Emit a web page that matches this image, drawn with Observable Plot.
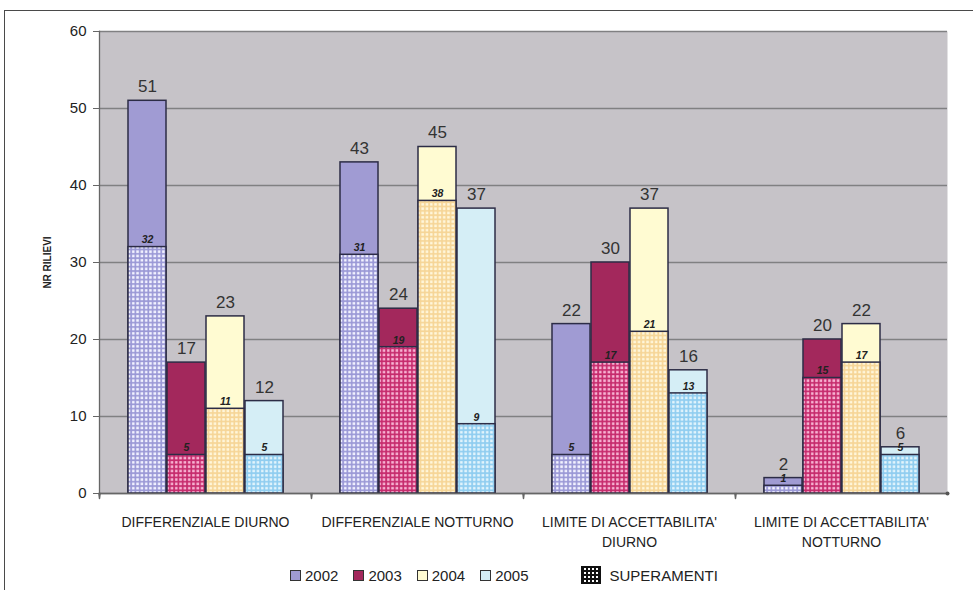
<!DOCTYPE html>
<html>
<head>
<meta charset="utf-8">
<script src="https://cdn.jsdelivr.net/npm/d3@7"></script>
<script src="https://cdn.jsdelivr.net/npm/@observablehq/plot@0.6"></script>
<style>
  body { margin: 0; background: #fff; font-family: Arial, "Liberation Sans", sans-serif; }
  #wrap { position: relative; width: 973px; height: 590px; overflow: hidden; background: #fff; }
  #chart { position: absolute; left: 0; top: 0; }
  #border { position: absolute; left: 4px; top: 10px; width: 1200px; height: 900px;
            border-top: 1.5px solid #4a4a4a; border-left: 1.5px solid #4a4a4a; pointer-events: none; }
  #legend { position: absolute; left: 290px; top: 566px; display: flex; align-items: center;
            font-size: 15px; color: #222; }
  .item { display: flex; align-items: center; margin-right: 15px; }
  .sw { width: 9px; height: 9px; border: 1px solid #333; margin-right: 4px; }
  .pat { width: 18px; height: 16px; margin-left: 37px; margin-right: 9px;
         background-color: #111;
         background-image: radial-gradient(circle, #fff 1.1px, transparent 1.3px);
         background-size: 4px 4px; background-position: 1px 0px; border: 1px solid #111; }
</style>
</head>
<body>
<div id="wrap">
  <div id="chart"></div>
  <div id="legend"></div>
  <div id="border"></div>
</div>
<script>
// ---- data ----
const categories = ["DIFFERENZIALE DIURNO", "DIFFERENZIALE NOTTURNO", "LIMITE DI ACCETTABILITA' DIURNO", "LIMITE DI ACCETTABILITA' NOTTURNO"];
const categoryLabels = ["DIFFERENZIALE DIURNO", "DIFFERENZIALE NOTTURNO", "LIMITE DI ACCETTABILITA'\nDIURNO", "LIMITE DI ACCETTABILITA'\nNOTTURNO"];
const years = ["2002", "2003", "2004", "2005"];
const total2002 = [51, 43, 22, 2];
const total2003 = [17, 24, 30, 20];
const total2004 = [23, 45, 37, 22];
const total2005 = [12, 37, 16, 6];
const super2002 = [32, 31, 5, 1];
const super2003 = [5, 19, 17, 15];
const super2004 = [11, 38, 21, 17];
const super2005 = [5, 9, 13, 5];
const yTicks = [0, 10, 20, 30, 40, 50, 60];
const legendLabel = "SUPERAMENTI";
const yLabel = "NR RILIEVI";

// ---- styles ----
const solid = {"2002": "#a09bd3", "2003": "#a3285c", "2004": "#fffbd2", "2005": "#d5eef6"};
const patterns = {
  "2002": ["#9a98d6", "#f2f2ff"],
  "2003": ["#c62a6c", "#f7b3d3"],
  "2004": ["#f6d596", "#fff6da"],
  "2005": ["#8fcdf0", "#e2f4fc"]
};

const totals = {"2002": total2002, "2003": total2003, "2004": total2004, "2005": total2005};
const supers = {"2002": super2002, "2003": super2003, "2004": super2004, "2005": super2005};
const rows = [];
categories.forEach((cat, i) => {
  years.forEach(year => {
    rows.push({cat, year, total: totals[year][i], sup: supers[year][i]});
  });
});

const font = "Arial, 'Liberation Sans', sans-serif";
const barStroke = "#2c2c46";

const plot = Plot.plot({
  width: 973,
  height: 560,
  marginLeft: 97,
  marginRight: 25,
  marginTop: 31,
  marginBottom: 67,
  style: {background: "transparent", fontFamily: font, color: "#222"},
  fx: {domain: categories, padding: 0, axis: null},
  x: {domain: years, paddingInner: 0.038, paddingOuter: 0.71, axis: null},
  y: {domain: [0, 60], axis: null},
  color: {type: "identity"},
  marks: [
    Plot.frame({fill: "#c6c3c8", facet: "super"}),
    Plot.gridY(yTicks, {stroke: "#808082", strokeOpacity: 1, strokeWidth: 1.3}),
    Plot.axisY(yTicks, {tickSize: 6, tickPadding: 7, fontSize: 15, label: null, stroke: "#666", fill: "#222"}),
    Plot.axisY({ticks: [], label: yLabel, labelAnchor: "center", labelOffset: 56, labelArrow: "none", fontSize: 10, fontWeight: "bold", fill: "#222"}),
    Plot.frame({anchor: "left", facet: "super", stroke: "#666", strokeWidth: 1.3}),
    Plot.barY(rows, {fx: "cat", x: "year", y: "total", fill: d => solid[d.year], stroke: barStroke, strokeWidth: 1.5}),
    Plot.barY(rows, {fx: "cat", x: "year", y: "sup", fill: d => `url(#pat${d.year})`, stroke: barStroke, strokeWidth: 1.5}),
    Plot.text(rows, {fx: "cat", x: "year", y: "total", text: d => String(d.total), dy: -14, fontSize: 17, fill: "#333"}),
    Plot.text(rows, {fx: "cat", x: "year", y: "sup", text: d => String(d.sup), dy: -7, fontSize: 10.5, fontWeight: "bold", fontStyle: "italic", fill: "#222"}),
    Plot.frame({anchor: "bottom", facet: "super", stroke: "#666", strokeWidth: 1.5}),
    Plot.vector([0], {frameAnchor: "bottom-left", length: 5, rotate: 180, anchor: "start", shape: "spike", r: 0.6, fill: "#666", stroke: "#666"}),
    Plot.dot([0], {frameAnchor: "bottom-right", facet: "super", r: 2, fill: "#555"}),
    Plot.text(categories, {fx: d => d, text: d => categoryLabels[categories.indexOf(d)], frameAnchor: "bottom", lineAnchor: "top", dy: 19, lineHeight: 1.45, fontSize: 14, fill: "#222"})
  ]
});

// patterns for the "superamenti" part
const svg = d3.select(plot.tagName.toLowerCase() === "svg" ? plot : plot.querySelector("svg"));
const defs = svg.insert("defs", ":first-child");
for (const year of years) {
  const [line, cell] = patterns[year];
  const p = defs.append("pattern").attr("id", "pat" + year)
    .attr("patternUnits", "userSpaceOnUse").attr("width", 4.3).attr("height", 4.3);
  p.append("rect").attr("width", 4.3).attr("height", 4.3).attr("fill", line);
  p.append("rect").attr("x", 1).attr("y", 1).attr("width", 2.6).attr("height", 2.6).attr("fill", cell);
}
document.getElementById("chart").appendChild(plot);

// legend
const legend = d3.select("#legend");
for (const year of years) {
  const it = legend.append("div").attr("class", "item");
  it.append("div").attr("class", "sw").style("background", solid[year]);
  it.append("span").text(year);
}
const sp = legend.append("div").attr("class", "item");
sp.append("div").attr("class", "pat");
sp.append("span").text(legendLabel);
</script>
</body>
</html>
